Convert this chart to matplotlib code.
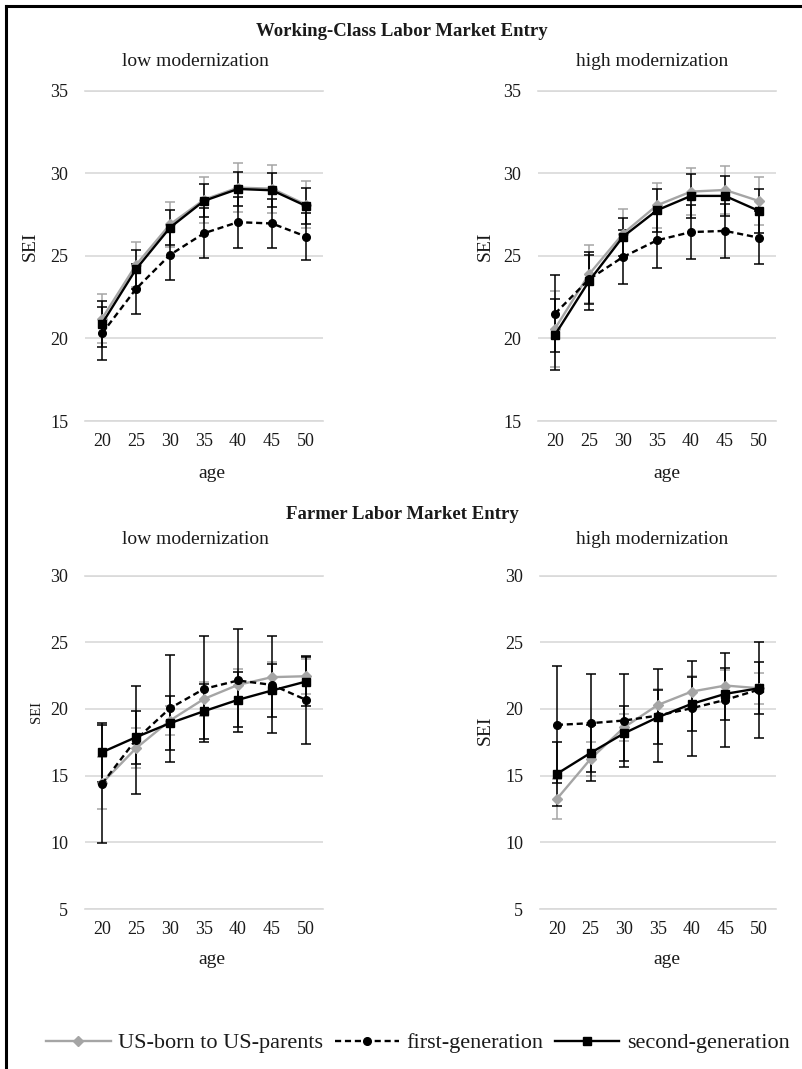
import numpy as np
import matplotlib
matplotlib.use('Agg')
import matplotlib.pyplot as plt
from matplotlib.lines import Line2D

plt.rcParams['font.family'] = ['Liberation Serif', 'DejaVu Serif']

ages = [20, 25, 30, 35, 40, 45, 50]
series_names = ['US-born to US-parents', 'first-generation', 'second-generation']

# Working-class entry, low modernization
wc_low_us = [21.2, 24.45, 26.9, 28.4, 29.13, 29.07, 28.1]
wc_low_us_err = [1.5, 1.36, 1.35, 1.4, 1.47, 1.45, 1.44]
wc_low_first = [20.3, 23.0, 25.06, 26.37, 27.04, 26.96, 26.17]
wc_low_first_err = [1.63, 1.5, 1.53, 1.51, 1.54, 1.5, 1.41]
wc_low_second = [20.89, 24.19, 26.71, 28.33, 29.05, 28.97, 28.02]
wc_low_second_err = [1.39, 1.17, 1.05, 1.0, 1.03, 1.03, 1.07]

# Working-class entry, high modernization
wc_high_us = [20.59, 23.88, 26.34, 28.06, 28.89, 28.99, 28.32]
wc_high_us_err = [2.31, 1.76, 1.52, 1.37, 1.41, 1.45, 1.46]
wc_high_first = [21.5, 23.58, 24.93, 25.94, 26.44, 26.51, 26.1]
wc_high_first_err = [2.32, 1.5, 1.62, 1.66, 1.65, 1.62, 1.62]
wc_high_second = [20.22, 23.47, 26.16, 27.76, 28.63, 28.63, 27.72]
wc_high_second_err = [2.16, 1.77, 1.15, 1.31, 1.35, 1.21, 1.31]

# Farmer entry, low modernization
fa_low_us = [14.43, 17.05, 19.13, 20.75, 21.8, 22.38, 22.45]
fa_low_us_err = [1.93, 1.5, 1.1, 1.3, 1.2, 1.17, 1.3]
fa_low_first = [14.38, 17.7, 20.05, 21.5, 22.13, 21.8, 20.68]
fa_low_first_err = [4.45, 4.05, 4.0, 4.0, 3.87, 3.63, 3.3]
fa_low_second = [16.75, 17.88, 18.93, 19.83, 20.68, 21.38, 22.05]
fa_low_second_err = [2.2, 2.0, 2.0, 2.05, 2.05, 2.0, 1.83]

# Farmer entry, high modernization
fa_high_us = [13.25, 16.25, 18.63, 20.3, 21.3, 21.75, 21.55]
fa_high_us_err = [1.5, 1.25, 1.0, 1.2, 1.2, 1.2, 1.15]
fa_high_first = [18.8, 18.93, 19.13, 19.5, 20.05, 20.68, 21.45]
fa_high_first_err = [4.38, 3.65, 3.5, 3.5, 3.55, 3.5, 3.6]
fa_high_second = [15.13, 16.7, 18.18, 19.38, 20.38, 21.13, 21.55]
fa_high_second_err = [2.4, 2.07, 2.05, 2.0, 2.0, 1.95, 1.95]

W, H = 803, 1069
GRAY = '#A5A5A5'
GRID = '#D9D9D9'
TXT = '#1a1a1a'

styles = [
    dict(color=GRAY, marker='D', ms=5, ls='-', ecolor=GRAY),
    dict(color='black', marker='o', ms=5.5, ls=(0, (2.6, 1.6)), ecolor='black'),
    dict(color='black', marker='s', ms=6, ls='-', ecolor='black'),
]


def px(x, y):
    # pixel position -> figure fraction
    return x / W, 1 - y / H


def rect(x0, y0, x1, y1):
    return [x0 / W, 1 - y1 / H, (x1 - x0) / W, (y1 - y0) / H]


def draw_panel(ax, data, errs, ylim, yticks):
    x = np.arange(len(ages))
    for vals, err, st in zip(data, errs, styles):
        ax.errorbar(x, vals, yerr=err, color=st['color'], ecolor=st['ecolor'],
                    marker=st['marker'], markersize=st['ms'], linestyle=st['ls'],
                    linewidth=1.7, elinewidth=1.1, capsize=3.6, capthick=1.1, zorder=3)
    ax.set_xlim(-0.5, len(ages) - 0.5)
    ax.set_ylim(*ylim)
    ax.set_yticks(yticks)
    ax.set_xticks(x)
    ax.set_xticklabels([str(a) for a in ages])
    ax.yaxis.grid(True, color=GRID, linewidth=1.2)
    ax.set_axisbelow(True)
    for s in ['left', 'right']:
        ax.spines[s].set_visible(False)
    for s in ['top', 'bottom']:
        ax.spines[s].set_color(GRID)
        ax.spines[s].set_linewidth(1.2)
    ax.tick_params(axis='both', length=0, labelsize=13, colors=TXT)
    ax.tick_params(axis='y', pad=12)
    ax.tick_params(axis='x', pad=9)


fig = plt.figure(figsize=(W / 100, H / 100), dpi=100)

panels = [
    (rect(85, 90.7, 323, 421), [wc_low_us, wc_low_first, wc_low_second],
     [wc_low_us_err, wc_low_first_err, wc_low_second_err], (15, 35), [15, 20, 25, 30, 35]),
    (rect(538, 90.7, 776, 421), [wc_high_us, wc_high_first, wc_high_second],
     [wc_high_us_err, wc_high_first_err, wc_high_second_err], (15, 35), [15, 20, 25, 30, 35]),
    (rect(85, 575.5, 323, 909), [fa_low_us, fa_low_first, fa_low_second],
     [fa_low_us_err, fa_low_first_err, fa_low_second_err], (5, 30), [5, 10, 15, 20, 25, 30]),
    (rect(540, 575.5, 776, 909), [fa_high_us, fa_high_first, fa_high_second],
     [fa_high_us_err, fa_high_first_err, fa_high_second_err], (5, 30), [5, 10, 15, 20, 25, 30]),
]

for pos, data, errs, ylim, yt in panels:
    ax = fig.add_axes(pos)
    draw_panel(ax, data, errs, ylim, yt)

# titles and axis labels
fig.text(*px(402, 31), 'Working-Class Labor Market Entry', ha='center', va='center',
         fontsize=13.5, fontweight='bold', color=TXT)
fig.text(*px(402, 515), 'Farmer Labor Market Entry', ha='center', va='center',
         fontsize=13.5, fontweight='bold', color=TXT)
for xc, yc, t in [(195, 62, 'low modernization'), (652, 62, 'high modernization'),
                  (195, 540, 'low modernization'), (652, 540, 'high modernization')]:
    fig.text(*px(xc, yc), t, ha='center', va='center', fontsize=14, color=TXT)
for xc, yc in [(212, 473), (667, 473), (212, 960), (667, 960)]:
    fig.text(*px(xc, yc), 'age', ha='center', va='center', fontsize=14, color=TXT)
for xc, yc, fs in [(30, 246, 14), (485, 246, 14), (37, 712, 10.5), (485, 730, 14)]:
    fig.text(*px(xc, yc), 'SEI', ha='center', va='center', rotation=90, fontsize=fs, color=TXT)

# legend
handles = [Line2D([], [], color=st['color'], marker=st['marker'], markersize=st['ms'],
                  linestyle=st['ls'], linewidth=1.7) for st in styles]
fig.legend(handles, series_names, loc='center', bbox_to_anchor=px(418, 1043), ncol=3,
           frameon=False, fontsize=16, handlelength=2.9, handletextpad=0.35,
           columnspacing=0.5, labelcolor=TXT)

# frame lines on the left and top
fig.add_artist(Line2D([6.5 / W, 6.5 / W], [0, 1 - 5.5 / H], color='black', linewidth=2.2))
fig.add_artist(Line2D([6.5 / W, 1], [1 - 5.5 / H, 1 - 5.5 / H], color='black', linewidth=2.2))

fig.savefig('out.png', dpi=100)
